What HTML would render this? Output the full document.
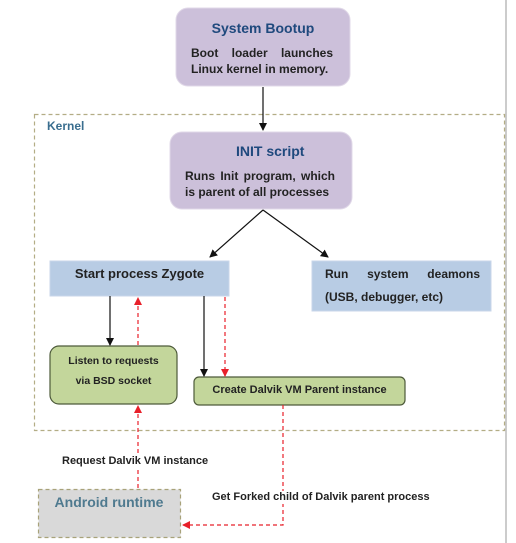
<!DOCTYPE html>
<html><head><style>
body{margin:0;background:#fff;width:516px;height:543px;overflow:hidden;position:relative;font-family:"Liberation Sans",sans-serif;font-weight:bold;}
.t{position:absolute;white-space:nowrap;color:#222;line-height:1.15;}
</style></head><body>
<svg width="516" height="543" style="position:absolute;left:0;top:0">
<defs>
<marker id="ak" markerWidth="8" markerHeight="8" refX="7" refY="4" orient="auto" markerUnits="userSpaceOnUse"><path d="M0,0 L8,4 L0,8z" fill="#111"/></marker>
<marker id="ar" markerWidth="8" markerHeight="8" refX="7" refY="4" orient="auto" markerUnits="userSpaceOnUse"><path d="M0,0 L8,4 L0,8z" fill="#e8202a"/></marker>
</defs>
<line x1="506" y1="0" x2="506" y2="543" stroke="#999" stroke-width="1"/>
<rect x="34.5" y="114.5" width="470" height="316" fill="none" stroke="#b3ad85" stroke-width="1.2" stroke-dasharray="4,3"/>
<rect x="176" y="8" width="174" height="78" rx="12" fill="#ccc0da" stroke="#e0d8e8"/>
<rect x="170" y="132" width="182" height="77" rx="12" fill="#ccc0da" stroke="#e0d8e8"/>
<rect x="50" y="261" width="179" height="35" fill="#b8cce4" stroke="#c8d6ea"/>
<rect x="312" y="261" width="179" height="50" fill="#b8cce4" stroke="#c8d6ea"/>
<rect x="50" y="346" width="127" height="58" rx="9" fill="#c3d69b" stroke="#4d5a3a" stroke-width="1.2"/>
<rect x="194" y="377" width="211" height="28" rx="5" fill="#c3d69b" stroke="#4d5a3a" stroke-width="1.2"/>
<rect x="38.5" y="489.5" width="142" height="48" fill="#d9d9d9" stroke="#a8a27a" stroke-width="1.2" stroke-dasharray="4,3"/>
<g stroke="#111" stroke-width="1.2" fill="none">
<line x1="263" y1="87" x2="263" y2="130" marker-end="url(#ak)"/>
<line x1="263" y1="210" x2="210" y2="257" marker-end="url(#ak)"/>
<line x1="263" y1="210" x2="328" y2="257" marker-end="url(#ak)"/>
<line x1="110" y1="296" x2="110" y2="345" marker-end="url(#ak)"/>
<line x1="204" y1="296" x2="204" y2="376" marker-end="url(#ak)"/>
</g>
<g stroke="#e8202a" stroke-width="1.2" fill="none" stroke-dasharray="4,3">
<line x1="138" y1="345" x2="138" y2="298" marker-end="url(#ar)"/>
<line x1="225" y1="297" x2="225" y2="376" marker-end="url(#ar)"/>
<line x1="138" y1="488" x2="138" y2="406" marker-end="url(#ar)"/>
<polyline points="283,405 283,525 183,525" marker-end="url(#ar)"/>
</g>
</svg>
<div class="t" style="left:176px;width:174px;text-align:center;top:20px;font-size:14px;color:#1f497d">System Bootup</div>
<div class="t" style="left:191px;width:142px;top:47px;font-size:12px;text-align:justify;text-align-last:justify;">Boot loader launches</div>
<div class="t" style="left:191px;top:63px;font-size:12px">Linux kernel in memory.</div>
<div class="t" style="left:47px;top:120px;color:#3a6e8f;font-size:12px">Kernel</div>
<div class="t" style="left:236px;top:143px;font-size:14px;color:#1f497d">INIT script</div>
<div class="t" style="left:185px;top:170px;font-size:12px;word-spacing:2px">Runs Init program, which</div>
<div class="t" style="left:185px;top:186px;font-size:12px">is parent of all processes</div>
<div class="t" style="left:50px;width:179px;text-align:center;top:267px;font-size:13px">Start process Zygote</div>
<div class="t" style="left:325px;width:155px;top:268px;font-size:12px;text-align:justify;text-align-last:justify;">Run system deamons</div>
<div class="t" style="left:325px;top:291px;font-size:12px">(USB, debugger, etc)</div>
<div class="t" style="left:50px;width:127px;text-align:center;top:355px;font-size:10.5px">Listen to requests</div>
<div class="t" style="left:50px;width:127px;text-align:center;top:375px;font-size:10.5px">via BSD socket</div>
<div class="t" style="left:194px;width:211px;text-align:center;top:384px;font-size:11px">Create Dalvik VM Parent instance</div>
<div class="t" style="left:62px;top:455px;font-size:11px;background:#fff">Request Dalvik VM instance</div>
<div class="t" style="left:38px;width:142px;text-align:center;top:494px;font-size:14px;color:#4f7a8f">Android runtime</div>
<div class="t" style="left:212px;top:491px;font-size:11px;background:#fff">Get Forked child of Dalvik parent process</div>
</body></html>
